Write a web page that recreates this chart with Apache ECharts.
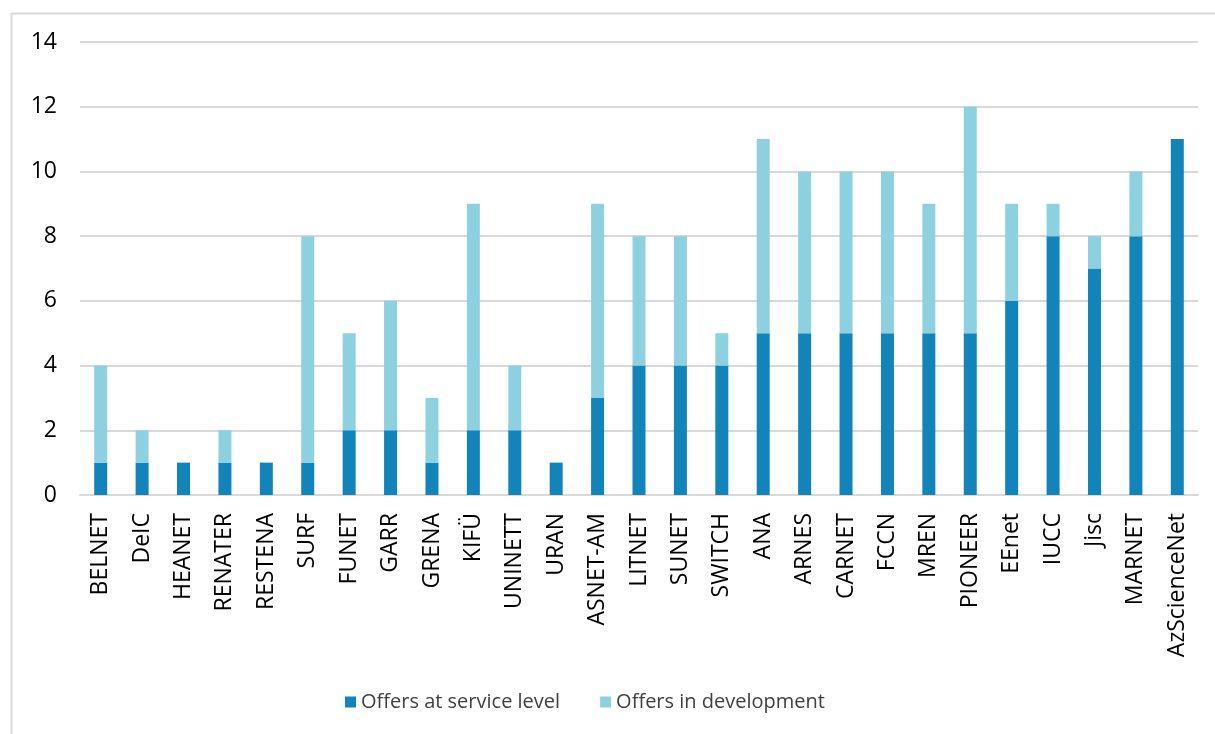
<!DOCTYPE html>
<html><head><meta charset="utf-8">
<script src="https://cdn.jsdelivr.net/npm/echarts@6/dist/echarts.min.js"></script>
<style>html,body{margin:0;padding:0;background:#fff}#c{width:1215px;height:734px}</style>
</head><body><div id="c"></div>
<script>
const categories = ["BELNET","DeIC","HEANET","RENATER","RESTENA","SURF","FUNET","GARR","GRENA","KIFÜ","UNINETT","URAN","ASNET-AM","LITNET","SUNET","SWITCH","ANA","ARNES","CARNET","FCCN","MREN","PIONEER","EEnet","IUCC","Jisc","MARNET","AzScienceNet"];
const atServiceLevel = [1,1,1,1,1,1,2,2,1,2,2,1,3,4,4,4,5,5,5,5,5,5,6,8,7,8,11];
const inDevelopment = [3,1,0,1,0,7,3,4,2,7,2,0,6,4,4,1,6,5,5,5,4,7,3,1,1,2,0];
const seriesNames = ["Offers at service level","Offers in development"];

const font = "Open Sans";
const chart = echarts.init(document.getElementById('c'), null, {renderer:'canvas'});
chart.setOption({
  animation:false,
  textStyle:{fontFamily:font},
  graphic:[
    {type:'line', shape:{x1:11,y1:13.5,x2:1215,y2:13.5}, style:{stroke:'#d9d9d9',lineWidth:2}},
    {type:'line', shape:{x1:11.5,y1:13,x2:11.5,y2:734}, style:{stroke:'#d9d9d9',lineWidth:2}}
  ],
  grid:{left:80,right:17,top:42,bottom:239,containLabel:false},
  legend:{
    left:340, top:687, itemWidth:11, itemHeight:11, itemGap:40, icon:'rect',
    textStyle:{fontFamily:font,fontSize:20,color:'#404040'},
    data:seriesNames
  },
  xAxis:{
    type:'category', data:categories,
    axisLine:{lineStyle:{color:'#d9d9d9',width:2}},
    axisTick:{show:false},
    axisLabel:{rotate:90, interval:0, margin:18, fontSize:23, color:'#000', fontFamily:font}
  },
  yAxis:{
    type:'value', min:0, max:14, interval:2,
    axisLine:{show:false}, axisTick:{show:false},
    splitLine:{lineStyle:{color:'#d9d9d9',width:2}},
    axisLabel:{margin:23, fontSize:23, color:'#000', fontFamily:font}
  },
  series:[
    {name:seriesNames[0], type:'bar', stack:'a', data:atServiceLevel, barWidth:13, itemStyle:{color:'#1384ba'}},
    {name:seriesNames[1], type:'bar', stack:'a', data:inDevelopment, barWidth:13, itemStyle:{color:'#8dd1e1'}}
  ]
});
</script></body></html>
